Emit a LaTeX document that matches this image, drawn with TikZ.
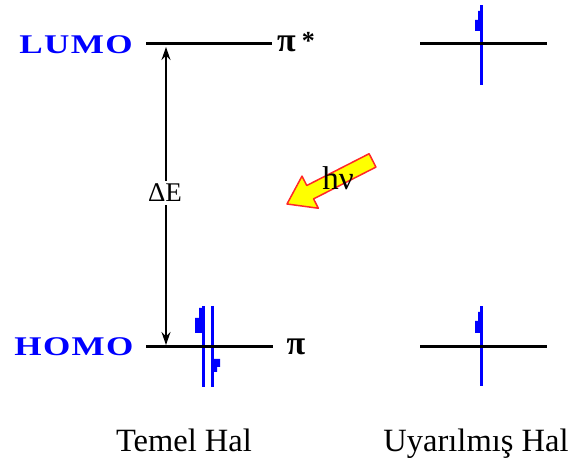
\documentclass[tikz,border=0pt]{standalone}
\usepackage{fontspec}
\setmainfont{Liberation Serif}
\usetikzlibrary{arrows.meta}
\definecolor{eblue}{RGB}{0,0,255}
\definecolor{hvyellow}{RGB}{255,255,0}
\definecolor{hvred}{RGB}{255,40,40}
\begin{document}
\begin{tikzpicture}[x=1pt,y=1pt,
  level/.style={line width=3pt},
  elec/.style={draw=eblue,line width=3pt},
  flag/.style={fill=eblue},
  orb/.style={text=eblue,inner sep=0pt,font=\fontsize{27}{30}\selectfont\bfseries\addfontfeatures{FakeStretch=1.3,LetterSpace=5}},
  pilbl/.style={inner sep=0pt,font=\fontsize{34}{38}\selectfont\bfseries},
  captxt/.style={font=\fontsize{32.5}{36}\selectfont},
  gap/.style={-{Stealth[length=13pt,width=9pt]},line width=1.2pt}]
\useasboundingbox (0,0) rectangle (571,466);
% labels
\node[orb] (lumo) at (76,421) {LUMO};
\node[orb] (homo) at (74,119) {HOMO};
\node[pilbl,anchor=west] (pistar) at (277,424) {π\hspace{6pt}\raisebox{2pt}{\fontsize{26}{30}\selectfont *}};
\node[pilbl] (pi) at (296,119) {π};
% Delta E arrow
\node[font=\fontsize{27}{30}\selectfont] (dE) at (165,273) {ΔE};
\coordinate (dEtop) at (166,419);
\coordinate (dEbot) at (166,121);
\draw[gap] (dE.north -| dEtop) -- (dEtop);
\draw[gap] (dE.south -| dEbot) -- (dEbot);
% ground state electrons
\coordinate (g1a) at (203,79); \coordinate (g1b) at (203,160);
\coordinate (g2a) at (212,160); \coordinate (g2b) at (212,79);
\draw[elec] (g1a) -- (g1b);
\fill[flag] (204,158) -- (199,158) -- (199,148) -- (195,148) -- (195,133) -- (204,133) -- cycle;
\draw[elec] (g2a) -- (g2b);
\fill[flag] (211,107) -- (220,107) -- (220,99) -- (217,99) -- (217,94) -- (211,94) -- cycle;
% excited state electrons
\coordinate (e1a) at (481,381); \coordinate (e1b) at (481,461);
\coordinate (e2a) at (481,80); \coordinate (e2b) at (481,160);
\draw[elec] (e1a) -- (e1b);
\fill[flag] (482,455) -- (478,455) -- (478,446) -- (475,446) -- (475,435) -- (482,435) -- cycle;
\draw[elec] (e2a) -- (e2b);
\fill[flag] (482,154) -- (478,154) -- (478,145) -- (475,145) -- (475,133) -- (482,133) -- cycle;
% h nu arrow
\begin{scope}[shift={(287,262)},rotate=207]
  \draw[fill=hvyellow,draw=hvred,line width=1.5pt,line join=round]
    (0,0) -- (-26,18) -- (-26,7.5) -- (-96,7.5) -- (-96,-7.5) -- (-26,-7.5) -- (-26,-18) -- cycle;
\end{scope}
\node[font=\fontsize{33}{36}\selectfont,anchor=base] (hv) at (338,276) {hν};
% captions
\node[captxt,anchor=base] (temel) at (184,14) {Temel Hal};
\node[captxt,anchor=base] (uyar) at (476,14) {Uyarılmış Hal};
% energy levels (drawn last)
\coordinate (LUa) at (146,422); \coordinate (LUb) at (272,422);
\coordinate (HOa) at (146,119); \coordinate (HOb) at (273,119);
\coordinate (LXa) at (420,422); \coordinate (LXb) at (547,422);
\coordinate (HXa) at (420,119); \coordinate (HXb) at (547,119);
\draw[level] (LUa) -- (LUb);
\draw[level] (HOa) -- (HOb);
\draw[level] (LXa) -- (LXb);
\draw[level] (HXa) -- (HXb);
\end{tikzpicture}
\end{document}
